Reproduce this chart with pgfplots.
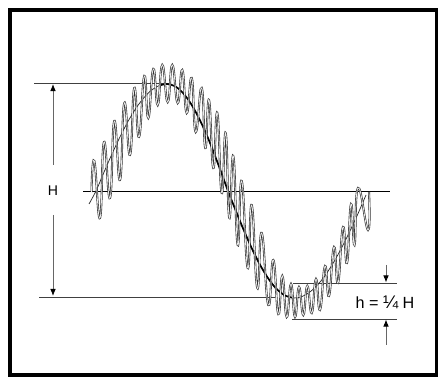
\documentclass[border=0pt]{standalone}
\usepackage{fontspec}
\setmainfont{Liberation Sans}
\usepackage{pgfplots}
\pgfplotsset{compat=1.18}
\usetikzlibrary{arrows.meta}
\begin{document}
\begin{tikzpicture}
\begin{axis}[width=11cm,height=9.625cm,scale only axis,hide axis,clip=false,
  xmin=0,xmax=440,ymin=0,ymax=385,y dir=reverse]
\fill[white] (0,0) rectangle (440,385);
\draw[line width=2.6pt] (10,10) rectangle (436.5,375);
% reference lines
\draw[line width=1.1pt] (83,191.5) -- (390,191.5);
\draw[black!75,line width=0.6pt] (34,83) -- (170,83);
\draw[black!75,line width=0.6pt] (39,297) -- (275,297);
\draw[black!75,line width=0.6pt] (293,283) -- (397,283);
\draw[black!75,line width=0.6pt] (292,319) -- (397,319);
% dimension arrows
\tikzset{dimarr/.style={black!60,line width=0.6pt,-{Latex[length=5pt,width=4pt,black]}}}
\draw[dimarr] (53,165) -- (53,84);
\draw[dimarr] (53,215) -- (53,296);
\draw[dimarr] (386,265) -- (386,282.5);
\draw[dimarr] (386,345) -- (386,319.5);
\node[font=\fontsize{10}{12}\selectfont] at (53,191) {H};
\node[font=\fontsize{11.5}{13}\selectfont] at (385,302) {h = {\fontsize{13}{13}\selectfont ¼} H};
% fundamental (thin)
\addplot[black!85,line width=0.5pt,smooth] coordinates {
(89,204) (96,191) (104,172.2) (112,153.9) (120,136.9) (128,121.4) (136,108.2)
(144,97.6) (152,89.8) (160,85.3) (167,84) (175,86.2) (183,93) (191,103.8)
(199,118.3) (207,135.6) (214,153.2) (221,171.8) (228,191) (236,211.2)
(244,230.7) (252,248.8) (260,264.8) (268,278.1) (276,288.4) (285,295.5)
(294,298) (302,296.5) (310,291.9) (318,284.4) (326,274.2) (334,261.7)
(342,247.1) (350,230.9) (358,213.6) (366,195)
};
% fundamental (thick part)
\addplot[black,line width=1.2pt,smooth] coordinates {
(160,85.3) (167,84) (175,86.2) (183,93) (191,103.8)
(199,118.3) (207,135.6) (214,153.2) (221,171.8) (228,191) (236,211.2)
(244,230.7) (252,248.8) (260,264.8) (268,278.1) (276,288.4) (285,295.5)
(294,298)
};
% ripple
\addplot[black!80,line width=0.45pt,double=black!8,double distance=0.55pt,smooth,tension=0.9] coordinates {
(91.5,192) (94.3,161) (100,218) (104,142) (110,198) (114.3,121) (120,180)
(124.3,103) (130,155) (134.3,88) (139,137) (144.3,76) (148.3,118)
(153.3,69) (157.7,105) (162.3,65) (167.7,102) (172.3,65) (177.7,103)
(182.3,70) (186.7,113) (191.7,78) (195.7,132) (201.7,88) (205.3,148)
(209,100) (213.3,168) (217.3,113) (221.7,193) (225.7,133) (229.3,218)
(233.3,156) (237.7,245) (241.7,181) (247.7,268) (251.7,205) (257.3,288)
(261.7,233) (268.3,305) (273.3,260) (278.3,314) (282.3,276) (286.7,317)
(291,284) (295,317) (299,287) (303.3,315) (307.3,286) (311.7,313)
(316,279) (320,310) (325,266) (329,296) (334,247) (338,283) (343,227)
(347,263) (351,204) (354.5,245) (358,188) (368,230) (369,192)
};
\end{axis}
\end{tikzpicture}
\end{document}
